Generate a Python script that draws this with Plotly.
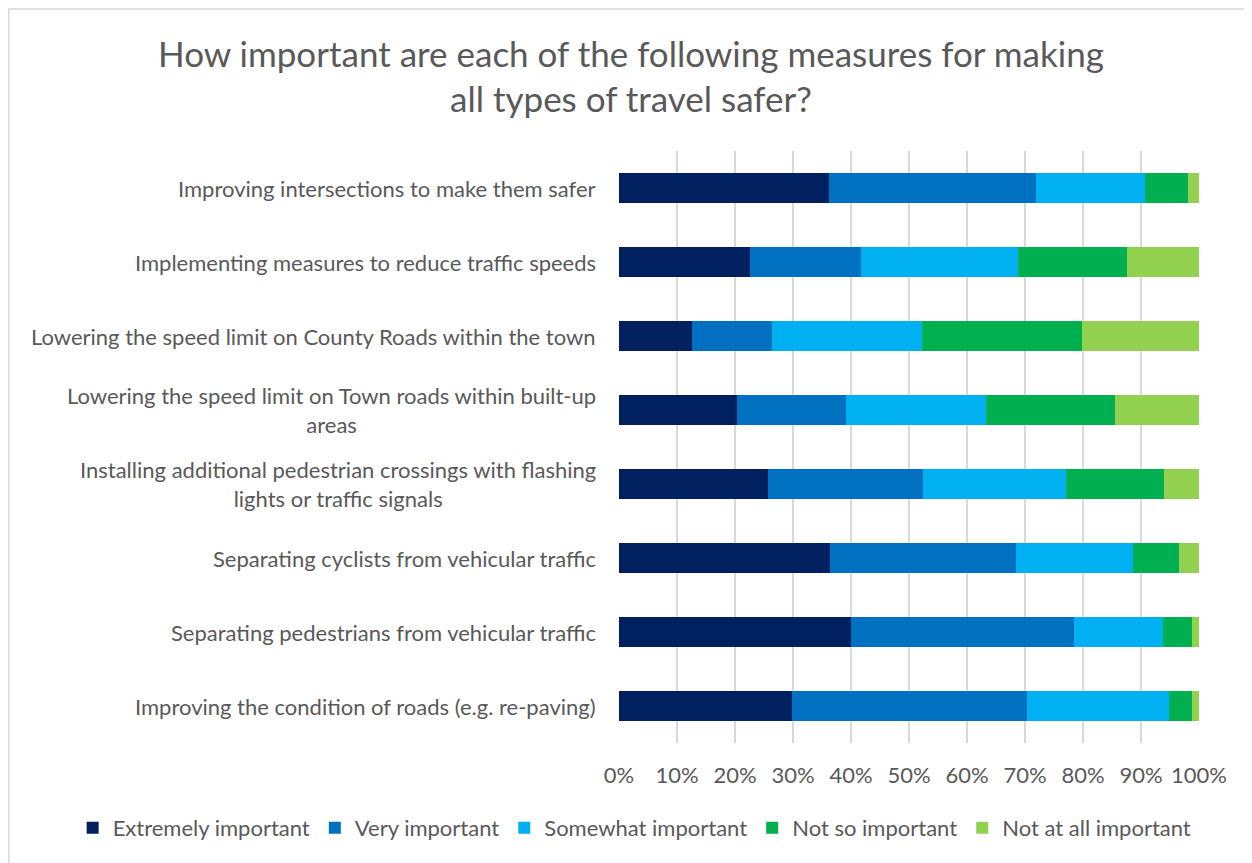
import plotly.graph_objects as go

# survey measures (top to bottom)
measures = [
    "Improving intersections to make them safer",
    "Implementing measures to reduce traffic speeds",
    "Lowering the speed limit on County Roads within the town",
    "Lowering the speed limit on Town roads within built-up<br>areas",
    "Installing additional pedestrian crossings with flashing<br>lights or traffic signals",
    "Separating cyclists from vehicular traffic",
    "Separating pedestrians from vehicular traffic",
    "Improving the condition of roads (e.g. re-paving)",
]

# shares in percent, one list per response
extremely = [36.2, 22.5, 12.6, 20.4, 25.7, 36.3, 40.0, 29.8]
very = [35.7, 19.3, 13.8, 18.8, 26.7, 32.1, 38.5, 40.6]
somewhat = [18.8, 27.0, 25.8, 24.1, 24.7, 20.2, 15.3, 24.4]
not_so = [7.4, 18.7, 27.6, 22.3, 16.8, 7.9, 5.0, 4.0]
not_at_all = [1.9, 12.5, 20.2, 14.4, 6.1, 3.5, 1.2, 1.2]

responses = ["Extremely important", "Very important", "Somewhat important",
             "Not so important", "Not at all important"]
colors = ["#002060", "#0070C0", "#00B0F0", "#00B050", "#92D050"]
series = [extremely, very, somewhat, not_so, not_at_all]

grey = "#595959"
font = "Lato"

fig = go.Figure()
for name, vals, col in zip(responses, series, colors):
    fig.add_trace(go.Bar(
        y=measures, x=[v / 100 for v in vals],
        orientation="h", name=name,
        marker=dict(color=col, line_width=0),
    ))

# category labels, centred multi-line like the original
for m in measures:
    fig.add_annotation(
        x=-0.036, xref="paper", xanchor="right",
        y=m, yref="y", text=m, showarrow=False, align="center",
        font=dict(family=font, size=22, color=grey),
    )

# chart-area border
fig.add_shape(type="rect", xref="paper", yref="paper",
              x0=-1.052, x1=1.089, y0=-0.25, y1=1.240,
              line=dict(color="#D9D9D9", width=1.5), layer="below")

fig.update_layout(
    width=1244, height=855,
    barmode="stack", bargap=0.6,
    plot_bgcolor="white", paper_bgcolor="white",
    margin=dict(l=611, r=53, t=143, b=120),
    title=dict(
        text="How important are each of the following measures for making<br>all types of travel safer?",
        x=0.5008, xref="container", xanchor="center",
        y=0.931, yref="container", yanchor="middle",
        font=dict(family=font, size=35, color=grey),
    ),
    xaxis=dict(
        range=[0, 1], tickformat=".0%", dtick=0.1,
        showgrid=True, gridcolor="#D9D9D9", gridwidth=1.5,
        zeroline=False, showline=False,
        tickfont=dict(family=font, size=22, color=grey),
        ticks="", ticklabelstandoff=17,
    ),
    yaxis=dict(
        autorange="reversed", showticklabels=False,
        showgrid=False, zeroline=False, showline=False,
    ),
    legend=dict(
        orientation="h", xref="paper", yref="paper",
        x=-0.942, xanchor="left", y=-0.1436, yanchor="middle",
        font=dict(family=font, size=22, color=grey),
        traceorder="normal",
    ),
    showlegend=True,
)

fig.write_html("out.html")
